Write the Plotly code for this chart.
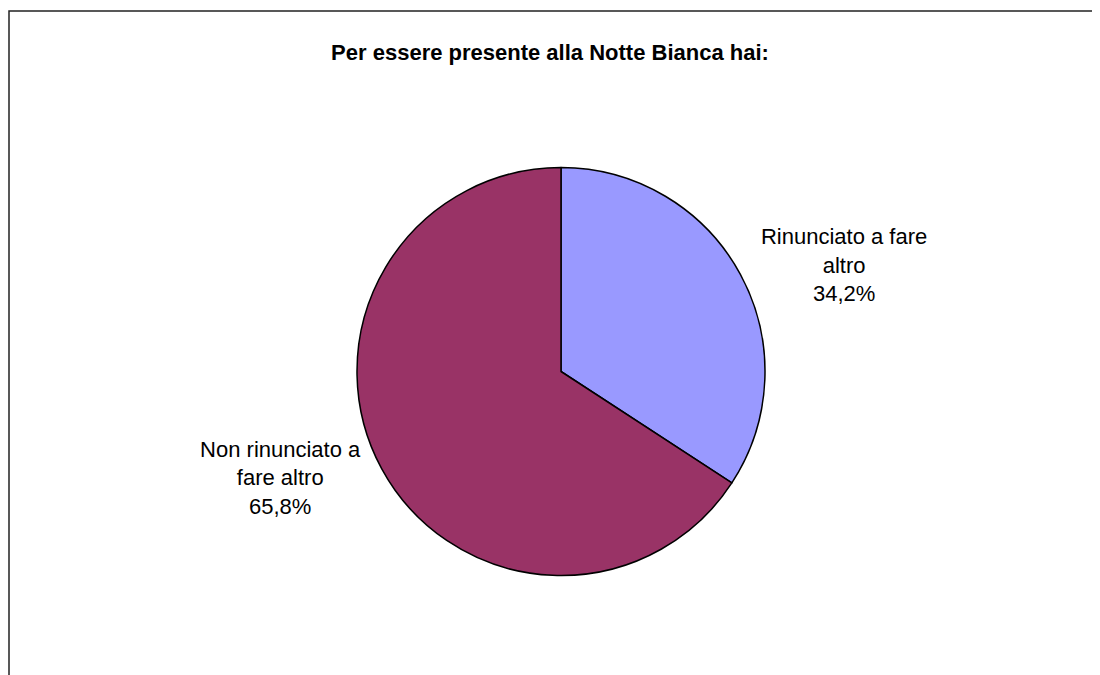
import plotly.graph_objects as go

title_text = "Per essere presente alla Notte Bianca hai:"
categories = ["Rinunciato a fare<br>altro", "Non rinunciato a<br>fare altro"]
values = [34.2, 65.8]
colors = ["#9999FF", "#993366"]

# page body has an 8px margin; size the figure so it fills the window
OFF = 8
W, H = 1100 - OFF, 675 - OFF
cx, cy, r = 561 - OFF, 371.5 - OFF, 204

fig = go.Figure(go.Pie(
    labels=categories,
    values=values,
    sort=False,
    direction="clockwise",
    rotation=0,
    marker=dict(colors=colors, line=dict(color="#000000", width=1.5)),
    textposition="outside",
    texttemplate="%{label}<br>%{percent:.1%}",
    textfont=dict(family="Liberation Sans, Arial, sans-serif", size=22, color="#000000"),
    showlegend=False,
    hoverinfo="label+percent",
    domain=dict(x=[(cx - r) / W, (cx + r) / W], y=[(H - cy - r) / H, (H - cy + r) / H]),
    automargin=False,
))

fig.update_layout(
    width=W, height=H,
    margin=dict(l=0, r=0, t=0, b=0),
    paper_bgcolor="#FFFFFF",
    plot_bgcolor="#FFFFFF",
    separators=",.",
    title=dict(
        text="<b>" + title_text + "</b>",
        x=(550 - OFF) / W, xanchor="center",
        y=1 - (52 - OFF) / H, yanchor="middle",
        font=dict(family="Liberation Sans, Arial, sans-serif", size=22, color="#000000"),
    ),
    shapes=[dict(type="rect", xref="paper", yref="paper",
                 x0=1 / W, x1=1.02, y0=-0.02, y1=1 - 3 / H,
                 line=dict(color="#222222", width=1.5), fillcolor="rgba(0,0,0,0)",
                 layer="below")],
)

fig.write_html("out.html")
